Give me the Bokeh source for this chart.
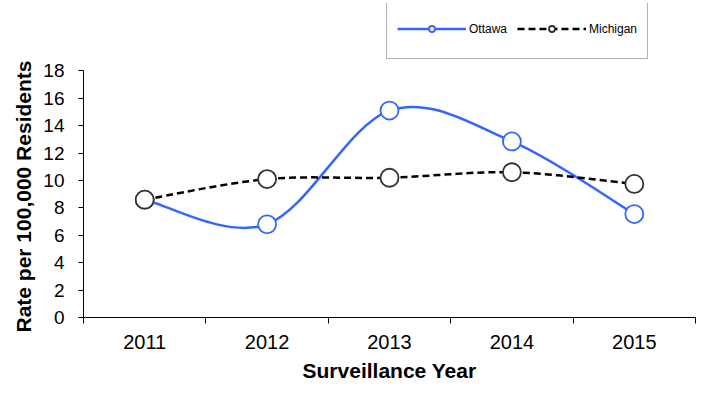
import numpy as np
from bokeh.plotting import figure
from bokeh.models import Range1d, FixedTicker, Legend, LegendItem, ColumnDataSource, Title
from bokeh.embed import file_html
from bokeh.resources import INLINE

# ---- data ----
years = [2011, 2012, 2013, 2014, 2015]
year_labels = ["2011", "2012", "2013", "2014", "2015"]
ottawa = [8.6, 6.8, 15.1, 12.85, 7.55]
michigan = [8.6, 10.1, 10.2, 10.6, 9.75]
y_ticks = [0, 2, 4, 6, 8, 10, 12, 14, 16, 18]
y_max = 18
series_names = ["Ottawa", "Michigan"]
y_title = "Rate per 100,000 Residents"
x_title = "Surveillance Year"

FONT = "Liberation Sans"
BLUE = "#3366ff"

# layout (pixels)
W, H = 696, 384
FRAME_TOP, AXIS_TOP, AXIS_BOTTOM = 3, 71, 320
LEFT, RIGHT = 83, 695
# headroom above the y axis so the legend lives inside the frame
y_top = y_max * (AXIS_BOTTOM - FRAME_TOP) / (AXIS_BOTTOM - AXIS_TOP)


def smooth_segments(xs, ys):
    """Bezier control points (Catmull-Rom style, like Excel's smoothed line)."""
    x = np.asarray(xs, dtype=float)
    y = np.asarray(ys, dtype=float)
    xp = np.concatenate([[x[0]], x, [x[-1]]])
    yp = np.concatenate([[y[0]], y, [y[-1]]])
    i = np.arange(len(x) - 1)
    return dict(
        x0=xp[i + 1], y0=yp[i + 1], x1=xp[i + 2], y1=yp[i + 2],
        cx0=xp[i + 1] + (xp[i + 2] - xp[i]) / 6.0,
        cy0=yp[i + 1] + (yp[i + 2] - yp[i]) / 6.0,
        cx1=xp[i + 2] - (xp[i + 3] - xp[i + 1]) / 6.0,
        cy1=yp[i + 2] - (yp[i + 3] - yp[i + 1]) / 6.0,
    )


p = figure(width=W, height=H, output_backend="svg", toolbar_location=None,
           x_range=Range1d(years[0] - 0.5, years[-1] + 0.5),
           y_range=Range1d(0, y_top),
           min_border_left=LEFT, min_border_right=W - RIGHT,
           min_border_top=FRAME_TOP, min_border_bottom=H - AXIS_BOTTOM)
p.outline_line_color = None
p.xgrid.visible = False
p.ygrid.visible = False
p.background_fill_color = "white"
p.border_fill_color = "white"

# Ottawa
ot_src = ColumnDataSource(smooth_segments(years, ottawa))
p.bezier(x0="x0", y0="y0", x1="x1", y1="y1", cx0="cx0", cy0="cy0", cx1="cx1", cy1="cy1",
         source=ot_src, line_color=BLUE, line_width=2.5)
# one-point line: draws nothing in the plot, only provides the legend swatch
ot_leg_line = p.line(x=years[:1], y=ottawa[:1], line_color=BLUE, line_width=2.5)
ot_pts = p.scatter(x=years, y=ottawa, size=18, marker="circle", fill_color="white",
                   line_color=BLUE, line_width=1.8)

# Michigan
mi_src = ColumnDataSource(smooth_segments(years, michigan))
p.bezier(x0="x0", y0="y0", x1="x1", y1="y1", cx0="cx0", cy0="cy0", cx1="cx1", cy1="cy1",
         source=mi_src, line_color="black", line_width=2.5, line_dash="7 4")
mi_leg_line = p.line(x=years[:1], y=michigan[:1], line_color="black", line_width=2.5,
                     line_dash="7 4")
mi_pts = p.scatter(x=years, y=michigan, size=18, marker="circle", fill_color="white",
                   line_color="#333333", line_width=1.8)

# axes
xa = p.xaxis[0]
xa.ticker = FixedTicker(ticks=years, minor_ticks=[y - 0.5 for y in years] + [years[-1] + 0.5])
xa.major_label_overrides = {y: lab for y, lab in zip(years, year_labels)}
xa.major_tick_out = 0
xa.major_tick_in = 0
xa.minor_tick_out = 6
xa.minor_tick_in = 0
xa.minor_tick_line_color = "black"
xa.axis_line_color = "black"
xa.major_label_standoff = 11
xa.major_label_text_font = FONT
xa.major_label_text_font_size = "20px"
xa.major_label_text_color = "black"
xa.axis_label = x_title
xa.axis_label_text_font = FONT
xa.axis_label_text_font_style = "bold"
xa.axis_label_text_font_size = "21px"
xa.axis_label_text_color = "black"
xa.axis_label_standoff = 7

ya = p.yaxis[0]
ya.ticker = FixedTicker(ticks=y_ticks)
ya.bounds = (0, y_max)
ya.major_tick_out = 5
ya.major_tick_in = 0
ya.minor_tick_out = 0
ya.minor_tick_in = 0
ya.axis_line_color = "black"
ya.major_tick_line_color = "black"
ya.major_label_standoff = 14
ya.major_label_text_font = FONT
ya.major_label_text_font_size = "19px"
ya.major_label_text_color = "black"

# y axis title as a side Title so it can be centred on the axis (not the taller frame)
p.add_layout(Title(text=y_title, align="left", offset=-15, standoff=11,
                   text_font=FONT, text_font_style="bold", text_font_size="21px",
                   text_color="black"), "left")

legend = Legend(items=[LegendItem(label=series_names[0], renderers=[ot_leg_line, ot_pts]),
                       LegendItem(label=series_names[1], renderers=[mi_leg_line, mi_pts])],
                orientation="horizontal", location=(303, AXIS_BOTTOM - 62), margin=0,
                padding=10, spacing=10, glyph_width=69, glyph_height=15,
                label_height=39, label_standoff=3,
                label_text_font=FONT, label_text_font_size="12px", label_text_color="black",
                border_line_color="#666666", border_line_width=1,
                background_fill_color="white", background_fill_alpha=1.0)
p.add_layout(legend)

open("out.html", "w").write(file_html(p, INLINE))
